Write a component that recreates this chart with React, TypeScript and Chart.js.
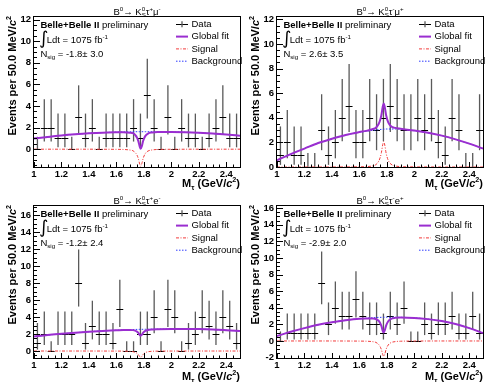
import React, { useEffect, useRef } from "react";
import { Chart, registerables } from "chart.js";
Chart.register(...registerables);

const FONT = "'Liberation Sans', Arial, Helvetica, sans-serif";

// ---- data ----
const binCenters = [1.025, 1.075, 1.125, 1.175, 1.225, 1.275, 1.325, 1.375, 1.425, 1.475, 1.525, 1.575, 1.625, 1.675, 1.725, 1.775, 1.825, 1.875, 1.925, 1.975, 2.025, 2.075, 2.125, 2.175, 2.225, 2.275, 2.325, 2.375, 2.425, 2.475];
const binHalfWidth = 0.025;

const countsTauPMuM = [0, 2, 2, 1, 1, 0, 3, 1, 2, 0, 1, 1, 1, 1, 2, 1, 5, 2, 0, 3, 0, 2, 1, 1, 0, 1, 2, 3, 1, 1];
const countsTauMMuP = [1, 2, 1, 1, 0, 0, 3, 1, 2, 4, 5, 2, 2, 4, 3, 4, 5, 4, 3, 3, 4, 3, 4, 2, 1, 4, 3, 0, 0, 3];
const countsTauPEM = [1, 2, 0, 2, 2, 2, 8, 1, 3, 2, 2, 1, 5, 0, 0, 2, 2, 4, 0, 5, 4, 0, 1, 2, 4, 3, 2, 4, 3, 1];
const countsTauMEP = [0, 1, 1, 1, 1, 1, 7, 2, 4, 3, 3, 5, 3, 2, 2, 1, 3, 2, 4, 0, 0, 2, 1, 2, 2, 3, 1, 1, 3, 1];

// Poisson (Garwood) 68% interval bounds indexed by count
const poissonLow = [0, 0.173, 0.708, 1.367, 2.086, 2.84, 3.62, 4.419, 5.232];
const poissonHigh = [1.148, 3.3, 4.638, 5.918, 7.163, 8.382, 9.584, 10.77, 11.95];

const fitX = [1.0, 1.1, 1.2, 1.3, 1.4, 1.5, 1.6, 1.65, 1.7, 1.72, 1.74, 1.75, 1.76, 1.77, 1.777, 1.785, 1.795, 1.81, 1.83, 1.86, 1.9, 2.0, 2.1, 2.2, 2.3, 2.4, 2.5];

const bgTauPMuM = [1.0, 1.13, 1.27, 1.38, 1.47, 1.54, 1.58, 1.6, 1.61, 1.62, 1.62, 1.62, 1.62, 1.62, 1.62, 1.62, 1.62, 1.62, 1.62, 1.62, 1.62, 1.6, 1.57, 1.52, 1.45, 1.36, 1.25];
const sigTauPMuM = [0, 0, 0, 0, 0, -0.005, -0.013, -0.024, -0.08, -0.14, -0.35, -0.55, -0.88, -1.39, -1.58, -1.34, -0.84, -0.41, -0.17, -0.07, -0.025, -0.008, -0.003, 0, 0, 0, 0];
const fitTauPMuM = [1.0, 1.13, 1.27, 1.38, 1.47, 1.535, 1.567, 1.576, 1.53, 1.48, 1.27, 1.07, 0.74, 0.23, 0.04, 0.28, 0.78, 1.21, 1.45, 1.55, 1.595, 1.592, 1.567, 1.52, 1.45, 1.36, 1.25];

const bgTauMMuP = [0.55, 1.05, 1.5, 1.95, 2.3, 2.6, 2.82, 2.91, 2.99, 3.01, 3.04, 3.05, 3.06, 3.07, 3.08, 3.08, 3.09, 3.09, 3.09, 3.09, 3.08, 2.95, 2.78, 2.55, 2.25, 1.9, 1.5];
const sigTauMMuP = [0, 0, 0, 0, 0, 0.006, 0.017, 0.03, 0.1, 0.19, 0.46, 0.73, 1.16, 1.83, 2.08, 1.77, 1.1, 0.54, 0.23, 0.09, 0.03, 0.01, 0.004, 0, 0, 0, 0];
const fitTauMMuP = [0.55, 1.05, 1.5, 1.95, 2.3, 2.61, 2.84, 2.94, 3.09, 3.2, 3.5, 3.78, 4.22, 4.9, 5.16, 4.85, 4.19, 3.63, 3.32, 3.18, 3.11, 2.96, 2.78, 2.55, 2.25, 1.9, 1.5];

const bgTauPEM = [1.7, 1.88, 2.02, 2.15, 2.27, 2.37, 2.45, 2.49, 2.52, 2.53, 2.54, 2.54, 2.55, 2.55, 2.55, 2.55, 2.56, 2.56, 2.56, 2.57, 2.58, 2.6, 2.6, 2.58, 2.53, 2.45, 2.36];
const sigTauPEM = [0, 0, 0, 0, 0, -0.002, -0.006, -0.011, -0.04, -0.07, -0.17, -0.26, -0.42, -0.66, -0.75, -0.64, -0.4, -0.2, -0.08, -0.03, -0.012, -0.004, -0.002, 0, 0, 0, 0];
const fitTauPEM = [1.7, 1.88, 2.02, 2.15, 2.27, 2.37, 2.44, 2.48, 2.48, 2.46, 2.37, 2.28, 2.13, 1.89, 1.8, 1.91, 2.16, 2.36, 2.48, 2.54, 2.57, 2.6, 2.6, 2.58, 2.53, 2.45, 2.36];

const bgTauMEP = [0.6, 1.1, 1.55, 1.95, 2.25, 2.5, 2.68, 2.74, 2.8, 2.82, 2.84, 2.84, 2.85, 2.85, 2.86, 2.86, 2.86, 2.86, 2.86, 2.86, 2.85, 2.78, 2.63, 2.4, 2.05, 1.55, 0.95];
const sigTauMEP = [0, 0, 0, 0, 0, -0.006, -0.015, -0.028, -0.09, -0.17, -0.41, -0.65, -1.04, -1.63, -1.85, -1.57, -0.98, -0.48, -0.2, -0.08, -0.03, -0.009, -0.004, 0, 0, 0, 0];
const fitTauMEP = [0.6, 1.1, 1.55, 1.95, 2.25, 2.49, 2.67, 2.71, 2.71, 2.65, 2.43, 2.19, 1.81, 1.22, 1.01, 1.29, 1.88, 2.38, 2.66, 2.78, 2.82, 2.77, 2.63, 2.4, 2.05, 1.55, 0.95];

const xTicks = [1, 1.2, 1.4, 1.6, 1.8, 2, 2.2, 2.4];
const yTicksMu = [0, 2, 4, 6, 8, 10, 12];
const yTicksEPlus = [0, 2, 4, 6, 8, 10, 12, 14, 16];
const yTicksEMinus = [-2, 0, 2, 4, 6, 8, 10, 12, 14, 16];

const nsigLabels = ["-1.8\u00b1 3.0", "2.6\u00b1 3.5", "-1.2\u00b1 2.4", "-2.9\u00b1 2.0"];
const legendLabels = ["Data", "Global fit", "Signal", "Background"];

// ---- styles ----
const PURPLE = "#9a2ed0";
const RED = "#f23c3c";
const BLUE = "#2f3cff";
const ERR = "#5a5a5a";

type Seg = { t?: string; sup?: string; sub?: string; it?: boolean };

const titleSegs = (tauSign: string, lep: string, lepSign: string): Seg[] => [
  { t: "B" }, { sup: "0" }, { t: "\u2192 K" }, { sup: "0", sub: "S" },
  { t: "\u03c4" }, { sup: tauSign }, { t: lep }, { sup: lepSign },
];

const fontStr = (size: number, bold: boolean, it?: boolean) =>
  `${it ? "italic " : ""}${bold ? "bold " : ""}${size}px ${FONT}`;

function richWidth(ctx: CanvasRenderingContext2D, segs: Seg[], size: number, bold: boolean) {
  let w = 0;
  for (const s of segs) {
    if (s.t !== undefined) {
      ctx.font = fontStr(size, bold, s.it);
      w += ctx.measureText(s.t).width;
    } else {
      ctx.font = fontStr(size * 0.65, bold);
      const a = s.sup ? ctx.measureText(s.sup).width : 0;
      const b = s.sub ? ctx.measureText(s.sub).width : 0;
      w += Math.max(a, b);
    }
  }
  return w;
}

function drawRich(ctx: CanvasRenderingContext2D, segs: Seg[], x: number, baseline: number, size: number, bold: boolean, align: "left" | "right" | "center") {
  const w = richWidth(ctx, segs, size, bold);
  let cx = align === "left" ? x : align === "right" ? x - w : x - w / 2;
  ctx.textAlign = "left";
  ctx.textBaseline = "alphabetic";
  for (const s of segs) {
    if (s.t !== undefined) {
      ctx.font = fontStr(size, bold, s.it);
      ctx.fillText(s.t, cx, baseline);
      cx += ctx.measureText(s.t).width;
    } else {
      ctx.font = fontStr(size * 0.65, bold);
      let a = 0, b = 0;
      if (s.sup) { ctx.fillText(s.sup, cx, baseline - size * 0.42); a = ctx.measureText(s.sup).width; }
      if (s.sub) { ctx.fillText(s.sub, cx, baseline + size * 0.25); b = ctx.measureText(s.sub).width; }
      cx += Math.max(a, b);
    }
  }
}

type PanelDef = {
  title: Seg[];
  counts: number[];
  bg: number[];
  sig: number[];
  fit: number[];
  yMin: number;
  yMax: number;
  yTicks: number[];
  nsig: string;
  top: number;
  width: number;
  xTitleOffset: number;
};

const panels: PanelDef[] = [
  { title: titleSegs("+", "\u03bc", "-"), counts: countsTauPMuM, bg: bgTauPMuM, sig: sigTauPMuM, fit: fitTauPMuM, yMin: -1.65, yMax: 12.25, yTicks: yTicksMu, nsig: nsigLabels[0], top: 17, width: 243, xTitleOffset: 20 },
  { title: titleSegs("-", "\u03bc", "+"), counts: countsTauMMuP, bg: bgTauMMuP, sig: sigTauMMuP, fit: fitTauMMuP, yMin: 0, yMax: 12.2, yTicks: yTicksMu, nsig: nsigLabels[1], top: 17, width: 244, xTitleOffset: 20 },
  { title: titleSegs("+", "e", "-"), counts: countsTauPEM, bg: bgTauPEM, sig: sigTauPEM, fit: fitTauPEM, yMin: -0.82, yMax: 17.06, yTicks: yTicksEPlus, nsig: nsigLabels[2], top: 15, width: 243, xTitleOffset: 22 },
  { title: titleSegs("-", "e", "+"), counts: countsTauMEP, bg: bgTauMEP, sig: sigTauMEP, fit: fitTauMEP, yMin: -2.05, yMax: 16.25, yTicks: yTicksEMinus, nsig: nsigLabels[3], top: 15, width: 244, xTitleOffset: 22 },
];

function line(ctx: CanvasRenderingContext2D, x0: number, y0: number, x1: number, y1: number) {
  ctx.beginPath();
  ctx.moveTo(x0, y0);
  ctx.lineTo(x1, y1);
  ctx.stroke();
}

function makePlugin(p: PanelDef) {
  return {
    id: "rootStyle",
    beforeDatasetsDraw(chart: any) {
      const { ctx, chartArea: a, scales } = chart;
      const xs = scales.x, ys = scales.y;
      ctx.save();
      ctx.beginPath();
      ctx.rect(a.left, a.top, a.right - a.left, a.bottom - a.top);
      ctx.clip();
      p.counts.forEach((n, i) => {
        const cx = xs.getPixelForValue(binCenters[i]);
        const py = Math.round(ys.getPixelForValue(n)) + 0.5;
        const yl = ys.getPixelForValue(poissonLow[n]);
        const yh = ys.getPixelForValue(poissonHigh[n]);
        ctx.strokeStyle = ERR;
        ctx.lineWidth = 1.3;
        line(ctx, cx, yl, cx, yh);
        ctx.strokeStyle = "#000";
        ctx.lineWidth = 1;
        line(ctx, xs.getPixelForValue(binCenters[i] - binHalfWidth), py, xs.getPixelForValue(binCenters[i] + binHalfWidth), py);
      });
      ctx.restore();
    },
    afterDraw(chart: any) {
      const { ctx, chartArea: a, scales } = chart;
      const xs = scales.x, ys = scales.y;
      ctx.save();
      ctx.strokeStyle = "#000";
      ctx.fillStyle = "#000";
      ctx.lineWidth = 1;
      // frame
      ctx.strokeRect(a.left - 0.5, a.top - 0.5, a.right - a.left + 1, a.bottom - a.top + 1);
      // y ticks
      for (const v of p.yTicks) {
        const py = Math.round(ys.getPixelForValue(v)) + 0.5;
        line(ctx, a.left, py, a.left + 6, py);
      }
      for (let k = Math.ceil(p.yMin / 0.5); k * 0.5 <= p.yMax; k++) {
        const v = k * 0.5;
        if (p.yTicks.includes(v)) continue;
        const py = Math.round(ys.getPixelForValue(v)) + 0.5;
        line(ctx, a.left, py, a.left + 3, py);
      }
      // x ticks
      for (const v of xTicks) {
        const px = Math.round(xs.getPixelForValue(v)) + 0.5;
        line(ctx, px, a.bottom, px, a.bottom - 5);
      }
      for (let k = 20; k <= 50; k++) {
        const v = k * 0.05;
        if (k % 4 === 0) continue;
        const px = Math.round(xs.getPixelForValue(v)) + 0.5;
        line(ctx, px, a.bottom, px, a.bottom - 2.5);
      }
      // title
      drawRich(ctx, p.title, (a.left + a.right) / 2, a.top - 2, 9.5, false, "center");
      // x title
      drawRich(ctx, [{ t: "M" }, { sub: "\u03c4" }, { t: " (GeV/" }, { t: "c", it: true }, { sup: "2" }, { t: ")" }], a.right, a.bottom + p.xTitleOffset, 11, true, "right");
      // y title
      ctx.save();
      ctx.translate(15.5, a.top - 1);
      ctx.rotate(-Math.PI / 2);
      drawRich(ctx, [{ t: "Events per 50.0 MeV/" }, { t: "c", it: true }, { sup: "2" }], 0, 0, 11, true, "right");
      ctx.restore();
      // annotations
      const fs = 9.5;
      const y1 = a.top + 7.3 + fs * 0.36;
      ctx.font = fontStr(fs, true);
      ctx.textAlign = "left";
      ctx.textBaseline = "alphabetic";
      const bx = a.left + 6.4;
      ctx.fillText("Belle+Belle II ", bx, y1);
      const bw = ctx.measureText("Belle+Belle II ").width;
      ctx.font = fontStr(fs, false);
      ctx.fillText("preliminary", bx + bw, y1);
      ctx.font = `18px 'DejaVu Sans', ${FONT}`;
      ctx.textBaseline = "middle";
      ctx.fillText("\u222b", a.left + 5, a.top + 22.5);
      drawRich(ctx, [{ t: "Ldt = 1075 fb" }, { sup: "-1" }], a.left + 12.7, a.top + 22.3 + fs * 0.36, fs, false, "left");
      drawRich(ctx, [{ t: "N" }, { sub: "sig" }, { t: " = " + p.nsig }], bx, a.top + 36.3 + fs * 0.36, fs, false, "left");
      // legend
      const lx0 = a.left + 142, lx1 = a.left + 154, tx = a.left + 157.5;
      legendLabels.forEach((lab, k) => {
        const ry = a.top + 7.3 + k * 12.3;
        ctx.setLineDash([]);
        if (k === 0) {
          ctx.strokeStyle = "#000"; ctx.lineWidth = 1;
          line(ctx, lx0, Math.round(ry) + 0.5, lx1, Math.round(ry) + 0.5);
          ctx.strokeStyle = ERR; ctx.lineWidth = 1.3;
          line(ctx, (lx0 + lx1) / 2, ry - 3, (lx0 + lx1) / 2, ry + 3);
        } else if (k === 1) {
          ctx.strokeStyle = PURPLE; ctx.lineWidth = 2;
          line(ctx, lx0, ry, lx1, ry);
        } else if (k === 2) {
          ctx.strokeStyle = RED; ctx.lineWidth = 1; ctx.setLineDash([3, 1.5, 1, 1.5]);
          line(ctx, lx0, ry, lx1, ry);
        } else {
          ctx.strokeStyle = BLUE; ctx.lineWidth = 1; ctx.setLineDash([1.5, 1.5]);
          line(ctx, lx0, ry, lx1, ry);
        }
        ctx.setLineDash([]);
        ctx.fillStyle = "#000";
        ctx.font = fontStr(fs, false);
        ctx.textBaseline = "middle";
        ctx.fillText(lab, tx, ry);
      });
      ctx.restore();
    },
  };
}

function Panel({ p }: { p: PanelDef }) {
  const ref = useRef<HTMLCanvasElement>(null);
  useEffect(() => {
    const pts = (ys: number[]) => fitX.map((x, i) => ({ x, y: ys[i] }));
    const chart = new Chart(ref.current as HTMLCanvasElement, {
      type: "line",
      data: {
        datasets: [
          { label: "Global fit", data: pts(p.fit), borderColor: PURPLE, borderWidth: 2, pointRadius: 0, cubicInterpolationMode: "monotone", fill: false },
          { label: "Background", data: pts(p.bg), borderColor: BLUE, borderWidth: 1, borderDash: [1.5, 1.5], pointRadius: 0, cubicInterpolationMode: "monotone", fill: false },
          { label: "Signal", data: pts(p.sig), borderColor: RED, borderWidth: 1, borderDash: [3, 1.5, 1, 1.5], pointRadius: 0, cubicInterpolationMode: "monotone", fill: false },
        ] as any,
      },
      options: {
        animation: false,
        responsive: false,
        devicePixelRatio: 1,
        events: [],
        layout: { padding: { left: 0, right: p.width - 240, top: p.top, bottom: 0 } },
        plugins: { legend: { display: false }, tooltip: { enabled: false }, title: { display: false } },
        scales: {
          x: {
            type: "linear",
            min: 1,
            max: 2.5,
            afterBuildTicks: (s: any) => { s.ticks = xTicks.map((v) => ({ value: v })); },
            afterFit: (s: any) => { s.height = 24; },
            grid: { display: false, drawTicks: false },
            border: { display: false },
            ticks: { autoSkip: false, maxRotation: 0, padding: 2, color: "#000", font: { family: FONT, size: 9.5, weight: "bold" }, callback: (v: any) => String(Math.round(Number(v) * 10) / 10) },
          },
          y: {
            type: "linear",
            min: p.yMin,
            max: p.yMax,
            afterBuildTicks: (s: any) => { s.ticks = p.yTicks.map((v) => ({ value: v })); },
            afterFit: (s: any) => { s.width = 34; },
            grid: { display: false, drawTicks: false },
            border: { display: false },
            ticks: { autoSkip: false, padding: 3, color: "#000", font: { family: FONT, size: 9.5, weight: "bold" }, callback: (v: any) => String(v) },
          },
        },
      } as any,
      plugins: [makePlugin(p)],
    });
    return () => chart.destroy();
  }, [p]);
  return <canvas ref={ref} width={p.width} height={191} style={{ display: "block", width: p.width, height: 191 }} />;
}

export default function App() {
  useEffect(() => {
    document.body.style.margin = "0";
  }, []);
  return (
    <div style={{ position: "absolute", left: 0, top: 0, width: 487, height: 382, display: "flex", flexWrap: "wrap", background: "#fff" }}>
      {panels.map((p, i) => (
        <Panel key={i} p={p} />
      ))}
    </div>
  );
}
